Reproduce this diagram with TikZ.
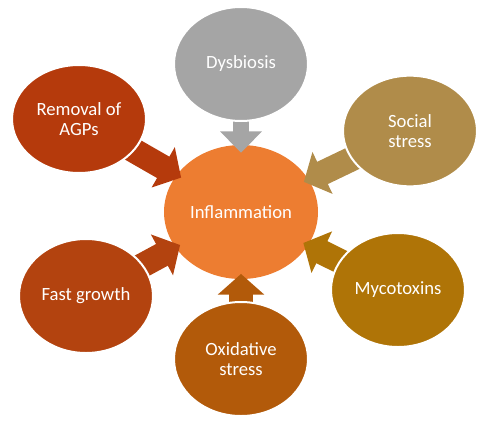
\documentclass[tikz,border=0pt]{standalone}
\usepackage{fontspec}
\setmainfont{Carlito}
\usetikzlibrary{shapes.geometric,arrows.meta}
\pgfdeclarelayer{back}
\pgfdeclarelayer{mid}
\pgfsetlayers{back,mid,main}
\definecolor{cInfl}{HTML}{ED7D31}
\definecolor{cDys}{HTML}{A5A5A5}
\definecolor{cRem}{HTML}{B53A0C}
\definecolor{cSoc}{HTML}{B08C4A}
\definecolor{cFast}{HTML}{B3430F}
\definecolor{cMyc}{HTML}{AF7407}
\definecolor{cOxi}{HTML}{B25A0A}
\tikzset{
  blob/.style={ellipse, inner sep=0pt, align=center, text=white,
    font=\fontsize{14}{15.5}\selectfont, draw=white, line width=1.5pt,
    minimum width=100.5pt, minimum height=85.5pt},
  hub/.style={ellipse, inner sep=0pt, text=white, fill=cInfl,
    font=\fontsize{14}{15.5}\selectfont,
    minimum width=115.5pt, minimum height=100.5pt},
  blockarrow/.style={line width=18.5pt,
    -{Triangle[length=15.5pt,width=34pt]},
    shorten <=-15pt, shorten >=-4pt},
  thinarrow/.style={line width=12pt,
    -{Triangle[length=16pt,width=30.5pt]},
    shorten <=-15pt, shorten >=-6pt}
}
\begin{document}
\begin{tikzpicture}[x=0.75pt,y=-0.75pt]
\useasboundingbox (0,0) rectangle (481,421);
\begin{pgfonlayer}{back}
\node[hub] (infl) at (241,212) {Inflammation};
\end{pgfonlayer}
\node[blob, fill=cDys] (dys) at (241,64) {Dysbiosis};
\node[blob, fill=cRem, minimum height=81pt] (rem) at (79,119) {Removal of\\AGPs};
\node[blob, fill=cSoc, minimum height=83pt] (soc) at (410,131) {Social\\stress};
\node[blob, fill=cFast] (fast) at (86,296) {Fast growth};
\node[blob, fill=cMyc] (myc) at (398,290) {Mycotoxins};
\node[blob, fill=cOxi] (oxi) at (241,359) {Oxidative\\stress};
\begin{pgfonlayer}{mid}
\draw[thinarrow, cDys] (dys) -- (infl);
\draw[blockarrow, cRem] (rem) -- (infl);
\draw[blockarrow, cSoc] (soc) -- (infl);
\draw[blockarrow, cFast] (fast) -- (infl);
\draw[blockarrow, cMyc] (myc) -- (infl);
\draw[blockarrow, cOxi] (oxi) -- (infl);
\end{pgfonlayer}
\end{tikzpicture}
\end{document}
